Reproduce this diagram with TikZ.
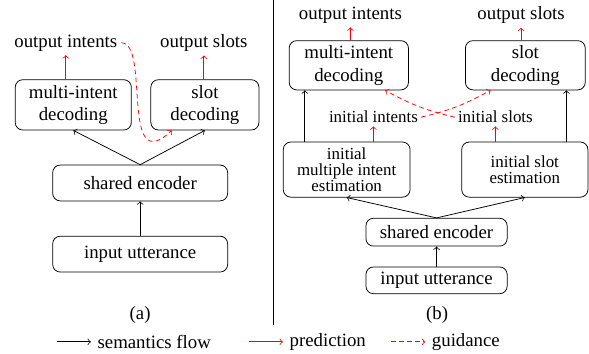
\documentclass[tikz,border=0pt]{standalone}
\usepackage{fontspec}
\setmainfont{Liberation Serif}
\tikzset{
	box/.style={draw, rounded corners=4pt, align=center, inner sep=1pt},
	minibox/.style={box, font=\fontsize{9}{8.5}\selectfont},
	txt/.style={inner sep=2pt},
	minitxt/.style={inner sep=1.5pt, font=\fontsize{9}{10}\selectfont},
	flow/.style={->, black},
	pred/.style={->, red},
	guide/.style={->, red, dash pattern=on 2.5pt off 1.8pt}
}
\begin{document}
\begin{tikzpicture}
				\useasboundingbox (0,0) rectangle (11.01,6.60);
				\node[box, minimum width = 2.17cm, minimum height = 0.94cm] (mida) at (1.37,4.64) {multi-intent\\decoding};
				\node[box, minimum width = 2.02cm, minimum height = 0.94cm] (sda) at (3.83,4.64) {slot\\decoding};
				\node[txt] (oia) at (1.23,5.80) {output intents};
				\node[txt] (osa) at (3.81,5.80) {output slots};
				\node[box, minimum width = 3.27cm, minimum height = 0.67cm] (enca) at (2.62,3.18) {shared encoder};
				\node[box, minimum width = 3.27cm, minimum height = 0.67cm] (inpa) at (2.62,1.85) {input utterance};
				\node (capa) at (2.62,0.72) {(a)};
				\draw[flow] (inpa) -- (enca);
				\draw[flow] (enca.north) -- (mida.south);
				\draw[flow] (enca.north) -- (sda.south);
				\draw[pred] (mida.north -| oia.south) -- (oia.south);
				\draw[pred] (sda.north -| osa.south) -- (osa.south);
				\draw[guide] (oia.east) .. controls (2.81,5.80) and (2.24,3.24) .. ([xshift=-0.62cm]sda.south);
				\draw (5.11,6.60) -- (5.11,0.52);
				\node[txt] (oib) at (6.55,6.32) {output intents};
				\node[txt] (osb) at (9.74,6.32) {output slots};
				\node[box, minimum width = 2.23cm, minimum height = 0.92cm] (midb) at (6.52,5.38) {multi-intent\\decoding};
				\node[box, minimum width = 2.24cm, minimum height = 0.92cm] (sdb) at (9.82,5.38) {slot\\decoding};
				\node[minitxt] (ini) at (6.98,4.41) {initial intents};
				\node[minitxt] (ins) at (9.26,4.41) {initial slots};
				\node[minibox, minimum width = 2.37cm, minimum height = 1.03cm] (imeb) at (6.48,3.43) {initial\\multiple intent\\estimation};
				\node[minibox, minimum width = 2.36cm, minimum height = 1.03cm] (iseb) at (9.81,3.43) {initial slot\\estimation};
				\node[box, minimum width = 2.64cm, minimum height = 0.52cm] (encb) at (8.16,2.26) {shared encoder};
				\node[box, minimum width = 2.64cm, minimum height = 0.50cm] (inpb) at (8.16,1.36) {input utterance};
				\node (capb) at (8.17,0.72) {(b)};
				\draw[flow] (inpb) -- (encb);
				\draw[flow] (encb.north) -- (imeb.south);
				\draw[flow] (encb.north) -- (iseb.south);
				\draw[flow] ([xshift=0.41cm]imeb.north west) -- ([xshift=0.41cm]imeb.north west |- midb.south);
				\draw[flow] ([xshift=-0.41cm]iseb.north east) -- ([xshift=-0.41cm]iseb.north east |- sdb.south);
				\draw[pred] (imeb.north -| ini.south) -- (ini.south);
				\draw[pred] (iseb.north -| ins.south) -- (ins.south);
				\draw[pred] (midb.north -| oib.south) -- (oib.south);
				\draw[pred] (sdb.north -| osb.south) -- (osb.south);
				\draw[guide] (ini.east) to[bend right=8] ([xshift=-0.65cm]sdb.south);
				\draw[guide] (ins.west) to[bend left=8] ([xshift=0.68cm]midb.south);
				\coordinate (la) at (1.07,0.21);
				\node[right] (lta) at (1.70,0.21) {semantics flow};
				\draw[flow] (la) -- (lta.west);
				\coordinate (lb) at (4.66,0.21);
				\node[right] (ltb) at (5.29,0.21) {prediction};
				\draw[pred] (lb) -- (ltb.west);
				\coordinate (lc) at (7.31,0.21);
				\node[right] (ltc) at (7.95,0.21) {guidance};
				\draw[guide] (lc) -- (ltc.west);
			\end{tikzpicture}
\end{document}
